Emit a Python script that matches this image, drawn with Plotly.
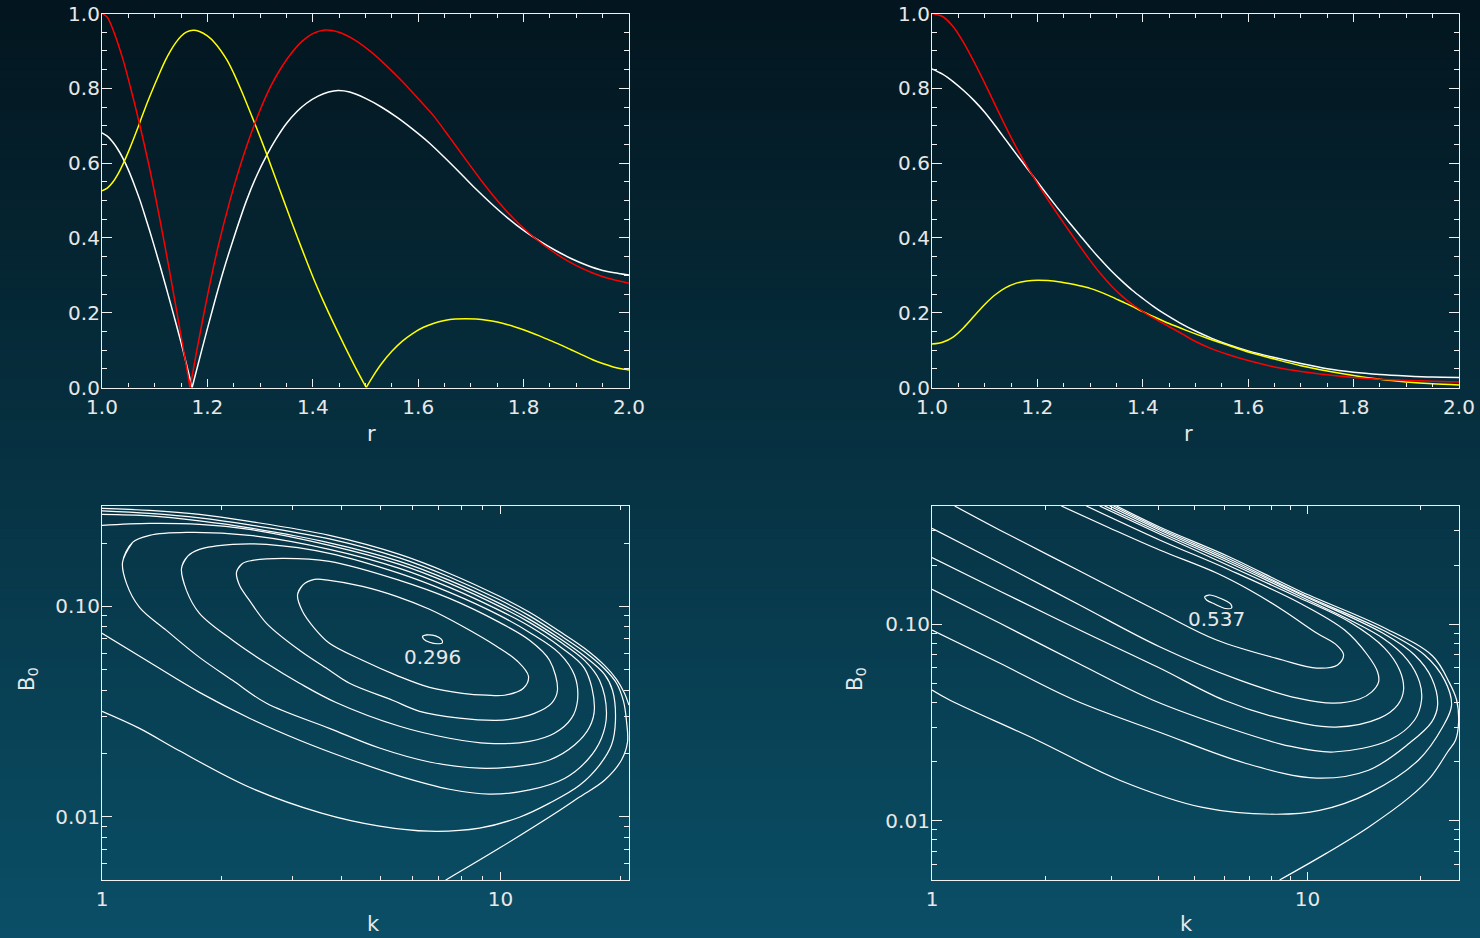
import numpy as np
import plotly.graph_objects as go

# ---------------- top-left panel (r in [1,2]) ----------------
tl_red_r = [1.000, 1.010, 1.020, 1.040, 1.059, 1.072, 1.080, 1.090, 1.100, 1.110, 1.120,
            1.130, 1.140, 1.150, 1.160, 1.167,
            1.180, 1.200, 1.220, 1.243, 1.260, 1.280, 1.300, 1.320, 1.340, 1.360, 1.380,
            1.400, 1.423, 1.450, 1.480, 1.510, 1.540, 1.570, 1.600, 1.630, 1.660, 1.690,
            1.720, 1.750, 1.780, 1.810, 1.840, 1.870, 1.900, 1.930, 1.960, 2.000]
tl_red_v = [1.000, 0.990, 0.960, 0.876, 0.775, 0.700, 0.651, 0.588, 0.520, 0.448, 0.374,
            0.297, 0.218, 0.138, 0.057, 0.000,
            0.100, 0.245, 0.375, 0.501, 0.583, 0.668, 0.742, 0.805, 0.855, 0.895, 0.926,
            0.946, 0.956, 0.950, 0.929, 0.898, 0.860, 0.818, 0.772, 0.725, 0.668, 0.610,
            0.553, 0.500, 0.453, 0.413, 0.379, 0.350, 0.326, 0.307, 0.292, 0.279]
tl_red_cusp = 15

tl_white_r = [1.000, 1.010, 1.020, 1.030, 1.040, 1.050, 1.060, 1.072, 1.080, 1.090, 1.100,
              1.110, 1.120, 1.130, 1.140, 1.150, 1.160, 1.171,
              1.190, 1.210, 1.230, 1.250, 1.2745, 1.295, 1.313, 1.330, 1.350, 1.370, 1.388,
              1.410, 1.430, 1.448, 1.470, 1.500, 1.530, 1.560, 1.590, 1.620, 1.650, 1.680,
              1.710, 1.740, 1.770, 1.800, 1.830, 1.860, 1.890, 1.920, 1.950, 1.980, 2.000]
tl_white_v = [0.681, 0.672, 0.657, 0.637, 0.612, 0.582, 0.547, 0.501, 0.466, 0.421, 0.374,
              0.326, 0.276, 0.225, 0.173, 0.120, 0.064, 0.000,
              0.104, 0.210, 0.310, 0.400, 0.501, 0.571, 0.622, 0.664, 0.706, 0.738, 0.760,
              0.779, 0.790, 0.794, 0.790, 0.773, 0.750, 0.722, 0.690, 0.655, 0.615, 0.573,
              0.530, 0.490, 0.453, 0.420, 0.392, 0.367, 0.345, 0.327, 0.313, 0.305, 0.301]
tl_white_cusp = 17

tl_yel_r = [1.000, 1.010, 1.020, 1.030, 1.040, 1.050, 1.060, 1.070, 1.080, 1.090, 1.100,
            1.110, 1.120, 1.130, 1.140, 1.150, 1.160, 1.173, 1.185, 1.200, 1.215, 1.237,
            1.250, 1.265, 1.287, 1.300, 1.313, 1.330, 1.344, 1.360, 1.380, 1.401, 1.420,
            1.440, 1.460, 1.480, 1.5013,
            1.515, 1.530, 1.550, 1.570, 1.590, 1.610, 1.630, 1.650, 1.670, 1.690, 1.710,
            1.730, 1.750, 1.770, 1.790, 1.810, 1.830, 1.850, 1.870, 1.890, 1.910, 1.930,
            1.950, 1.970, 1.985, 2.000]
tl_yel_v = [0.526, 0.533, 0.548, 0.570, 0.598, 0.630, 0.665, 0.702, 0.740, 0.776, 0.810,
            0.843, 0.874, 0.900, 0.922, 0.939, 0.950, 0.955, 0.952, 0.940, 0.920, 0.876,
            0.840, 0.792, 0.716, 0.670, 0.622, 0.557, 0.503, 0.442, 0.368, 0.293, 0.231,
            0.170, 0.112, 0.056, 0.000,
            0.032, 0.063, 0.097, 0.124, 0.145, 0.161, 0.172, 0.179, 0.183, 0.184, 0.183,
            0.180, 0.175, 0.168, 0.159, 0.149, 0.138, 0.126, 0.114, 0.101, 0.088, 0.075,
            0.064, 0.055, 0.050, 0.047]
tl_yel_cusp = 36

# ---------------- top-right panel ----------------
tr_red_r = [1.00, 1.02, 1.04, 1.06, 1.08, 1.10, 1.12, 1.14, 1.16, 1.18, 1.20, 1.22, 1.24,
            1.26, 1.28, 1.30, 1.32, 1.34, 1.36, 1.38, 1.40, 1.42, 1.44, 1.46, 1.48, 1.50,
            1.53, 1.56, 1.60, 1.65, 1.70, 1.75, 1.80, 1.85, 1.90, 1.95, 2.00]
tr_red_v = [1.000, 0.992, 0.965, 0.922, 0.870, 0.814, 0.755, 0.697, 0.642, 0.592, 0.546,
            0.502, 0.460, 0.419, 0.379, 0.340, 0.304, 0.272, 0.245, 0.222, 0.203, 0.186,
            0.170, 0.155, 0.139, 0.123, 0.104, 0.089, 0.072, 0.055, 0.043, 0.034, 0.027,
            0.022, 0.019, 0.017, 0.015]

tr_white_r = [1.00, 1.02, 1.04, 1.06, 1.08, 1.10, 1.12, 1.14, 1.16, 1.18, 1.20, 1.22, 1.24,
              1.26, 1.28, 1.30, 1.32, 1.34, 1.36, 1.38, 1.40, 1.42, 1.44, 1.47, 1.50, 1.53,
              1.56, 1.60, 1.65, 1.70, 1.75, 1.80, 1.85, 1.90, 1.95, 2.00]
tr_white_v = [0.852, 0.838, 0.818, 0.794, 0.767, 0.736, 0.700, 0.662, 0.624, 0.587, 0.550,
              0.513, 0.477, 0.442, 0.408, 0.374, 0.342, 0.312, 0.285, 0.260, 0.238, 0.217,
              0.198, 0.173, 0.151, 0.132, 0.116, 0.098, 0.080, 0.064, 0.050, 0.041, 0.035,
              0.031, 0.028, 0.027]

tr_yel_r = [1.00, 1.02, 1.04, 1.06, 1.08, 1.10, 1.12, 1.14, 1.16, 1.18, 1.20, 1.22, 1.24,
            1.26, 1.28, 1.30, 1.32, 1.34, 1.36, 1.38, 1.40, 1.42, 1.45, 1.48, 1.51, 1.54,
            1.57, 1.60, 1.65, 1.70, 1.75, 1.80, 1.85, 1.90, 1.95, 2.00]
tr_yel_v = [0.116, 0.121, 0.135, 0.160, 0.191, 0.222, 0.248, 0.267, 0.279, 0.285, 0.287,
            0.286, 0.283, 0.278, 0.272, 0.265, 0.255, 0.243, 0.230, 0.217, 0.203, 0.190,
            0.171, 0.154, 0.138, 0.123, 0.109, 0.095, 0.076, 0.058, 0.044, 0.032, 0.022,
            0.015, 0.010, 0.007]

r_ticks = [1.0, 1.2, 1.4, 1.6, 1.8, 2.0]
v_ticks = [0.0, 0.2, 0.4, 0.6, 0.8, 1.0]

# ---------------- bottom-left contours (k, B0) ----------------
L8_k = [1.0, 1.316, 1.756, 2.344, 3.721, 5.578, 7.445, 9.936, 11.82, 14.05, 16.24, 18.23,
        19.54, 20.46, 20.99]
L8_B = [0.2921, 0.2858, 0.2736, 0.2534, 0.2174, 0.1766, 0.1434, 0.1116, 0.0937, 0.0761,
        0.0632, 0.0524, 0.0450, 0.0386, 0.0339]
L7_k = [1.0, 1.316, 1.756, 2.344, 3.721, 5.578, 7.445, 9.936, 11.82, 14.05, 16.24, 18.23,
        19.54, 20.34, 20.70, 20.82, 20.11, 18.23, 15.78, 14.05, 9.936, 7.275]
L7_B = [0.2843, 0.2765, 0.2633, 0.2439, 0.2093, 0.1700, 0.1380, 0.1074, 0.0901, 0.0732,
        0.0608, 0.0505, 0.0431, 0.0354, 0.0284, 0.0226, 0.0186, 0.0149, 0.0124, 0.0107,
        0.00709, 0.00499]
Le_k = [1.0, 1.316, 1.756, 2.344, 3.721, 5.578, 7.445, 9.936, 11.82, 14.05, 16.24, 18.23,
        19.09, 19.42, 18.98, 17.71, 15.78, 13.27, 11.15, 8.852, 6.633, 4.968, 3.553, 2.344,
        1.555, 1.242, 1.0]
Le_B = [0.2736, 0.2691, 0.2548, 0.2360, 0.2003, 0.1636, 0.1329, 0.1033, 0.0867, 0.0705,
        0.0579, 0.0475, 0.0399, 0.0287, 0.0219, 0.0176, 0.0141, 0.0116, 0.00994, 0.00882,
        0.00853, 0.00902, 0.0104, 0.0138, 0.0207, 0.0263, 0.0317]
Ld_k = [1.0, 1.316, 1.756, 2.344, 3.721, 5.578, 7.445, 9.936, 11.82, 14.05, 16.24, 17.71,
        18.44, 17.91, 16.52, 14.47, 11.82, 9.38, 7.445, 5.578, 4.178, 3.130, 2.344, 1.756,
        1.316, 1.0]
Ld_B = [0.2425, 0.2479, 0.2452, 0.2321, 0.1949, 0.1583, 0.1286, 0.1000, 0.0839, 0.0682,
        0.0554, 0.0445, 0.0310, 0.0236, 0.0186, 0.0152, 0.0134, 0.0128, 0.0135, 0.0156,
        0.01876, 0.0231, 0.0294, 0.0390, 0.0542, 0.0744]
Lc_k = [1.126, 1.193, 1.316, 1.629, 2.344, 3.721, 5.578, 7.445, 9.936, 11.82, 14.05, 16.24,
        17.20, 16.71, 15.33, 13.27, 11.15, 8.852, 6.633, 4.968, 3.721, 2.587, 2.126, 1.756,
        1.451, 1.242, 1.152, 1.126]
Lc_B = [0.1618, 0.2014, 0.2174, 0.2246, 0.2174, 0.1866, 0.1515, 0.1231, 0.0957, 0.0804,
        0.0646, 0.0507, 0.0331, 0.0266, 0.0219, 0.0186, 0.0174, 0.0170, 0.0182, 0.0212,
        0.0263, 0.0346, 0.0445, 0.0572, 0.0769, 0.0989, 0.1286, 0.1618]
Lb_k = [1.583, 1.639, 1.756, 2.126, 2.587, 3.721, 5.578, 7.445, 9.936, 11.82, 14.05, 15.33,
        15.60, 15.07, 13.65, 11.82, 9.325, 7.445, 5.578, 3.853, 3.130, 2.587, 2.126, 1.756,
        1.629, 1.583]
Lb_B = [0.1515, 0.1728, 0.1866, 0.1970, 0.1970, 0.1786, 0.1434, 0.1165, 0.0906, 0.0752,
        0.0598, 0.0470, 0.0358, 0.0294, 0.0249, 0.0228, 0.0223, 0.0236, 0.0269, 0.0350,
        0.0431, 0.0536, 0.0690, 0.0926, 0.1191, 0.1515]
La_k = [2.175, 2.252, 2.385, 2.837, 3.721, 5.578, 7.445, 9.936, 11.82, 13.27, 13.89, 13.42,
        12.16, 10.53, 9.710, 7.887, 6.262, 5.356, 4.178, 3.721, 3.130, 2.587, 2.344, 2.213,
        2.175]
La_B = [0.1450, 0.1600, 0.1653, 0.1690, 0.1636, 0.1329, 0.1091, 0.0839, 0.0690, 0.0554,
        0.0399, 0.0346, 0.0310, 0.0290, 0.0287, 0.0294, 0.0317, 0.0358, 0.0431, 0.0497,
        0.0618, 0.0830, 0.1068, 0.1259, 0.1450]
LE_k = [3.094, 3.184, 3.413, 3.721, 4.503, 5.481, 6.633, 8.025, 9.765, 11.03, 11.75, 11.41,
        10.23, 9.218, 8.025, 6.633, 5.481, 4.503, 3.721, 3.413, 3.184, 3.094]
LE_B = [0.1128, 0.1259, 0.1343, 0.1329, 0.1245, 0.1116, 0.0968, 0.0804, 0.0646, 0.0548,
        0.0465, 0.0408, 0.0378, 0.0378, 0.0386, 0.0412, 0.0470, 0.0554, 0.0667, 0.0786,
        0.0947, 0.1128]
Lmax_k = [6.371, 6.556, 6.867, 7.107, 7.150, 6.946, 6.633, 6.407, 6.371]
Lmax_B = [0.0720, 0.0732, 0.0724, 0.0697, 0.0671, 0.0664, 0.0675, 0.0701, 0.0720]
Lmax_label = "0.296"
Lmax_label_k, Lmax_label_B = 6.75, 0.0560

# ---------------- bottom-right contours ----------------
R1_k = [2.210, 2.971, 4.036, 5.725, 7.008, 8.579, 10.57, 11.95, 12.47, 12.02, 10.57, 8.579,
        5.725, 4.036, 2.472, 1.513, 1.149]
R1_B = [0.400, 0.3093, 0.2389, 0.1824, 0.1495, 0.1183, 0.0903, 0.0784, 0.0698, 0.0621,
        0.0599, 0.0658, 0.0832, 0.1155, 0.1867, 0.3021, 0.400]
R2_k = [2.576, 4.036, 6.199, 9.522, 12.55, 14.44, 15.36, 15.45, 14.80, 13.76, 11.73, 9.408,
        6.591, 4.036, 2.472, 1.513, 1.0]
R2_B = [0.400, 0.2687, 0.1890, 0.1284, 0.0935, 0.0698, 0.0572, 0.0508, 0.0452, 0.0417,
        0.0397, 0.0421, 0.0520, 0.0769, 0.1254, 0.2052, 0.3082]
R3_k = [2.795, 4.036, 6.199, 9.522, 12.94, 16.03, 17.58, 18.01, 17.36, 15.55, 11.88, 8.423,
        5.976, 4.036, 2.472, 1.513, 1.0]
R3_B = [0.400, 0.2883, 0.1981, 0.1361, 0.1027, 0.0757, 0.0585, 0.0463, 0.0388, 0.0333,
        0.0300, 0.0333, 0.0412, 0.0599, 0.0935, 0.1478, 0.2184]
R4_k = [2.881, 4.036, 6.199, 9.522, 15.84, 18.46, 19.87, 20.11, 19.27, 16.53, 11.73, 8.956,
        6.199, 3.868, 2.472, 1.513, 1.0]
R4_B = [0.400, 0.2951, 0.2052, 0.1393, 0.0852, 0.0658, 0.0508, 0.0412, 0.0326, 0.0258,
        0.0224, 0.0240, 0.0296, 0.0412, 0.0628, 0.1015, 0.1507]
R5_k = [2.971, 4.036, 6.199, 9.522, 15.84, 19.27, 21.39, 22.19, 21.39, 18.69, 14.53, 10.57,
        6.796, 4.086, 2.391, 1.513, 1.0]
R5_B = [0.400, 0.3021, 0.2101, 0.1427, 0.0903, 0.0698, 0.0533, 0.0388, 0.0318, 0.0249,
        0.0181, 0.0165, 0.0197, 0.0280, 0.0412, 0.0635, 0.0935]
R6_k = [3.044, 4.036, 6.199, 9.522, 15.84, 20.49, 23.16, 24.17, 22.88, 19.75, 14.53, 10.76,
        8.219, 5.254, 3.159, 1.899, 1.114, 1.0]
R6_B = [0.400, 0.3075, 0.2151, 0.1443, 0.0935, 0.0698, 0.0520, 0.0388, 0.0300, 0.0204,
        0.0138, 0.0113, 0.0108, 0.0117, 0.0161, 0.0258, 0.0412, 0.0463]
R7_k = [3.101, 4.036, 6.199, 9.522, 15.84, 21.52, 23.88, 24.93, 25.24, 24.78, 23.59, 21.26,
        18.69, 14.53, 11.24, 8.423]
R7_B = [0.400, 0.3129, 0.2202, 0.1478, 0.0969, 0.0690, 0.0502, 0.0412, 0.0318, 0.0258,
        0.0224, 0.0167, 0.0132, 0.00929, 0.00685, 0.005]
Rmax_k = [5.319, 5.484, 5.831, 6.237, 6.275, 6.049, 5.655, 5.384, 5.319]
Rmax_B = [0.1377, 0.1410, 0.1361, 0.1269, 0.1211, 0.1204, 0.1269, 0.1330, 0.1377]
Rmax_label = "0.537"
Rmax_label_k, Rmax_label_B = 5.725, 0.1039

k_major = [1, 10]
k_minor = [2, 3, 4, 5, 6, 7, 8, 9, 20]
B_major = [0.01, 0.1]
B_major_text = ["0.01", "0.10"]
B_minor = [0.006, 0.007, 0.008, 0.009, 0.02, 0.03, 0.04, 0.05, 0.06, 0.07, 0.08, 0.09,
           0.2, 0.3, 0.4]

# ---------------- styling ----------------
W, H = 1480, 938
TXT = "#e8e8e8"
AX = "#f0f0f0"
FONT = "DejaVu Sans"
FS = 20

fig = go.Figure()

def add_line(x, y, color, xa, ya, width=1.5, smooth=0.8, closed=False):
    x, y = list(x), list(y)
    if closed:  # wrap the loop so the spline has no corner at the seam
        x = [x[-2]] + x + [x[1]]
        y = [y[-2]] + y + [y[1]]
    fig.add_trace(go.Scatter(x=x, y=y, mode="lines", xaxis=xa, yaxis=ya,
                             line=dict(color=color, width=width, shape="spline", smoothing=smooth),
                             hoverinfo="skip", showlegend=False))

def add_split(r, v, cusp, color, xa, ya):
    add_line(r[:cusp + 1], v[:cusp + 1], color, xa, ya)
    add_line(r[cusp:], v[cusp:], color, xa, ya)

# top-left
add_split(tl_white_r, tl_white_v, tl_white_cusp, "#ffffff", "x", "y")
add_split(tl_yel_r, tl_yel_v, tl_yel_cusp, "#ffff00", "x", "y")
add_split(tl_red_r, tl_red_v, tl_red_cusp, "#ff0000", "x", "y")
# top-right
add_line(tr_white_r, tr_white_v, "#ffffff", "x2", "y2")
add_line(tr_yel_r, tr_yel_v, "#ffff00", "x2", "y2")
add_line(tr_red_r, tr_red_v, "#ff0000", "x2", "y2")

for kk, bb in [(L8_k, L8_B), (L7_k, L7_B), (Le_k, Le_B), (Ld_k, Ld_B)]:
    add_line(kk, bb, "#ffffff", "x3", "y3", width=1.2, smooth=1.0)
for kk, bb in [(Lc_k, Lc_B), (Lb_k, Lb_B), (La_k, La_B), (LE_k, LE_B), (Lmax_k, Lmax_B)]:
    add_line(kk, bb, "#ffffff", "x3", "y3", width=1.2, smooth=1.0, closed=True)
for kk, bb in [(R1_k, R1_B), (R2_k, R2_B), (R3_k, R3_B), (R4_k, R4_B), (R5_k, R5_B),
               (R6_k, R6_B), (R7_k, R7_B)]:
    add_line(kk, bb, "#ffffff", "x4", "y4", width=1.2, smooth=1.0)
add_line(Rmax_k, Rmax_B, "#ffffff", "x4", "y4", width=1.2, smooth=1.0, closed=True)

fig.add_trace(go.Scatter(x=[Lmax_label_k], y=[Lmax_label_B], mode="text", text=[Lmax_label],
                         textfont=dict(family=FONT, size=FS, color=TXT),
                         xaxis="x3", yaxis="y3", showlegend=False, hoverinfo="skip"))
fig.add_trace(go.Scatter(x=[Rmax_label_k], y=[Rmax_label_B], mode="text", text=[Rmax_label],
                         textfont=dict(family=FONT, size=FS, color=TXT),
                         xaxis="x4", yaxis="y4", showlegend=False, hoverinfo="skip"))

xL = [102 / W, 629 / W]
xR = [932 / W, 1459 / W]
yT = [1 - 387.5 / H, 1 - 13.5 / H]
yB = [1 - 880 / H, 1 - 506 / H]

def base_axis(**kw):
    d = dict(showline=True, linecolor=AX, linewidth=1.2, mirror="allticks",
             ticks="inside", tickcolor=AX, tickwidth=1.2, showgrid=False, zeroline=False,
             automargin=False,
             tickfont=dict(family=FONT, size=FS, color=TXT), fixedrange=True)
    d.update(kw)
    return d

def lin_x(domain, anchor):
    return base_axis(domain=domain, anchor=anchor, range=[1, 2], tickvals=r_ticks,
                     ticktext=[f"{t:.1f}" for t in r_ticks], ticklen=8,
                     ticklabelstandoff=1,
                     minor=dict(dtick=0.05, tick0=1, ticks="inside", ticklen=4,
                                tickcolor=AX, tickwidth=1.2))

def lin_y(domain, anchor):
    return base_axis(domain=domain, anchor=anchor, range=[0, 1], tickvals=v_ticks,
                     ticktext=[f"{t:.1f}" for t in v_ticks], ticklen=10,
                     ticklabelstandoff=-3,
                     minor=dict(dtick=0.05, tick0=0, ticks="inside", ticklen=5,
                                tickcolor=AX, tickwidth=1.2))

def log_x(domain, anchor, kmax):
    return base_axis(domain=domain, anchor=anchor, type="log", range=[0, np.log10(kmax)],
                     tickvals=k_major, ticktext=["1", "10"], ticklen=8, ticklabelstandoff=1,
                     minor=dict(tickvals=k_minor, ticks="inside", ticklen=4,
                                tickcolor=AX, tickwidth=1.2))

def log_y(domain, anchor, bmax):
    return base_axis(domain=domain, anchor=anchor, type="log",
                     range=[np.log10(0.005), np.log10(bmax)],
                     tickvals=B_major, ticktext=B_major_text, ticklen=10, ticklabelstandoff=-3,
                     minor=dict(tickvals=B_minor, ticks="inside", ticklen=5,
                                tickcolor=AX, tickwidth=1.2))

# vertical background gradient
top_c = np.array([3, 21, 30])
bot_c = np.array([10, 79, 103])
n_strips = 94
shapes = []
for i in range(n_strips):
    t = (i + 0.5) / n_strips
    c = top_c + (bot_c - top_c) * t
    shapes.append(dict(type="rect", xref="paper", yref="paper", x0=0, x1=1,
                       y0=1 - (i + 1) / n_strips - 0.001, y1=1 - i / n_strips,
                       fillcolor=f"rgb({c[0]:.0f},{c[1]:.0f},{c[2]:.0f})",
                       line=dict(width=0), layer="below"))

ann_font = dict(family=FONT, size=FS + 1, color=TXT)
annotations = [
    dict(text="r", x=365 / W, y=1 - 434 / H, xref="paper", yref="paper", showarrow=False, font=ann_font),
    dict(text="r", x=1195 / W, y=1 - 434 / H, xref="paper", yref="paper", showarrow=False, font=ann_font),
    dict(text="k", x=365 / W, y=0, xref="paper", yref="paper", showarrow=False, font=ann_font,
         yanchor="bottom"),
    dict(text="k", x=1195 / W, y=0, xref="paper", yref="paper", showarrow=False, font=ann_font,
         yanchor="bottom"),
    dict(text="B<sub>0</sub>", x=13 / W, y=1 - 693 / H, xref="paper", yref="paper", showarrow=False,
         font=ann_font, textangle=-90, xanchor="left"),
    dict(text="B<sub>0</sub>", x=856 / W, y=1 - 693 / H, xref="paper", yref="paper", showarrow=False,
         font=ann_font, textangle=-90),
]

fig.update_layout(
    template="none",
    width=W, height=H, margin=dict(l=0, r=0, t=0, b=0, pad=0, autoexpand=False),
    paper_bgcolor="rgb(3,21,30)", plot_bgcolor="rgba(0,0,0,0)",
    showlegend=False, shapes=shapes, annotations=annotations,
    xaxis=lin_x(xL, "y"), yaxis=lin_y(yT, "x"),
    xaxis2=lin_x(xR, "y2"), yaxis2=lin_y(yT, "x2"),
    xaxis3=log_x(xL, "y3", 21.0), yaxis3=log_y(yB, "x3", 0.3),
    xaxis4=log_x(xR, "y4", 25.3), yaxis4=log_y(yB, "x4", 0.4),
)

fig.write_html("out.html")
